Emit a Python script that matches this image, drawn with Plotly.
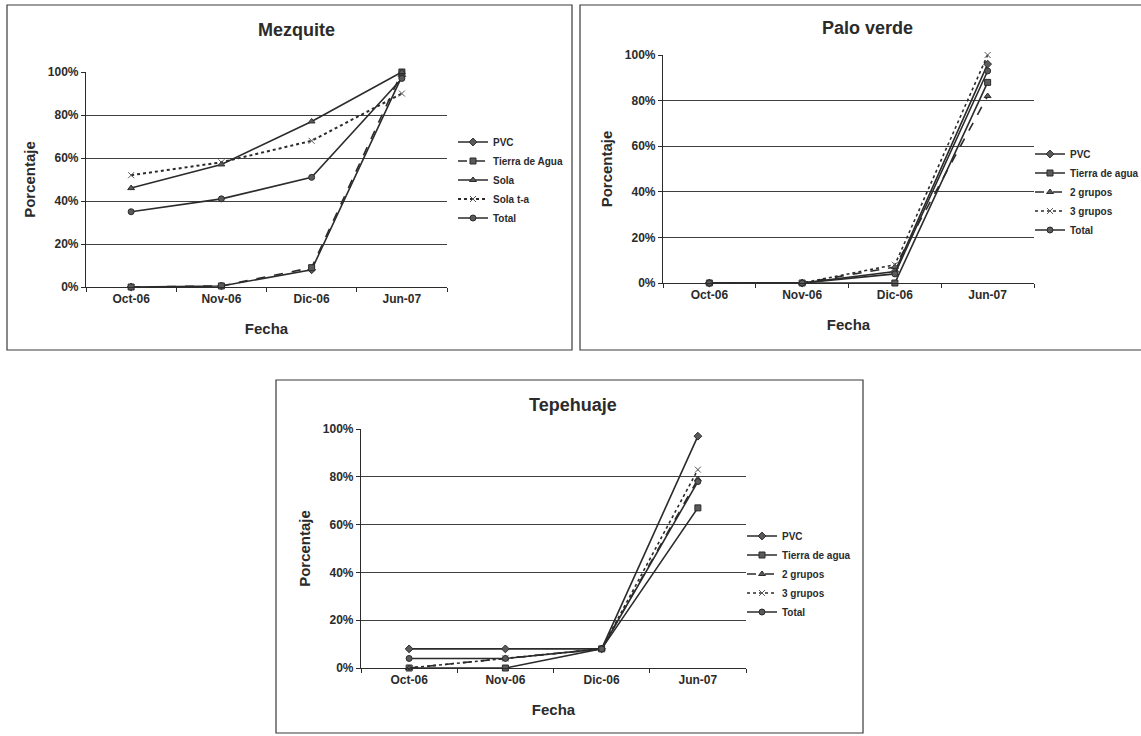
import plotly.graph_objects as go

W, H = 1141, 736

fechas = ["Oct-06", "Nov-06", "Dic-06", "Jun-07"]

# Mezquite
mez_pvc = [0, 0.5, 8, 98]
mez_tierra = [0, 0.5, 9, 100]
mez_sola = [46, 57, 77, 100]
mez_sola_ta = [52, 58, 68, 90]
mez_total = [35, 41, 51, 97]

# Palo verde
pal_pvc = [0, 0, 5, 96]
pal_tierra = [0, 0, 0, 88]
pal_2g = [0, 0, 7, 82]
pal_3g = [0, 0, 8, 100]
pal_total = [0, 0, 4, 93]

# Tepehuaje
tep_pvc = [8, 8, 8, 97]
tep_tierra = [0, 0, 8, 67]
tep_2g = [0, 4, 8, 79]
tep_3g = [0, 4, 8, 83]
tep_total = [4, 4, 8, 78]

INK = "#2b2b2b"
FONT = "Liberation Sans, Arial, sans-serif"


def px_x(v):
    return v / W


def px_y(v):
    return 1 - v / H


def serie(name, y, symbol, dash, xa, ya, leg, width=1.6):
    return go.Scatter(
        x=fechas, y=y, name=name, mode="lines+markers",
        xaxis=xa, yaxis=ya, legend=leg, cliponaxis=False,
        line=dict(color=INK, width=width, dash=dash),
        marker=dict(symbol=symbol, size=6, color="#5a5a5a",
                    line=dict(color=INK, width=1)),
    )


fig = go.Figure()

# Mezquite
for name, y, sym, dash in [
    ("PVC", mez_pvc, "diamond", "solid"),
    ("Tierra de Agua", mez_tierra, "square", "dash"),
    ("Sola", mez_sola, "triangle-up", "solid"),
    ("Sola t-a", mez_sola_ta, "x-thin-open", "dot"),
    ("Total", mez_total, "circle", "solid"),
]:
    fig.add_trace(serie(name, y, sym, dash, "x", "y", "legend",
                        2 if dash == "dot" else 1.6))

# Palo verde
for name, y, sym, dash in [
    ("PVC", pal_pvc, "diamond", "solid"),
    ("Tierra de agua", pal_tierra, "square", "solid"),
    ("2 grupos", pal_2g, "triangle-up", "dash"),
    ("3 grupos", pal_3g, "x-thin-open", "dot"),
    ("Total", pal_total, "circle", "solid"),
]:
    fig.add_trace(serie(name, y, sym, dash, "x2", "y2", "legend2"))

# Tepehuaje
for name, y, sym, dash in [
    ("PVC", tep_pvc, "diamond", "solid"),
    ("Tierra de agua", tep_tierra, "square", "solid"),
    ("2 grupos", tep_2g, "triangle-up", "dash"),
    ("3 grupos", tep_3g, "x-thin-open", "dot"),
    ("Total", tep_total, "circle", "solid"),
]:
    fig.add_trace(serie(name, y, sym, dash, "x3", "y3", "legend3"))


def xaxis(x0, x1, anchor):
    return dict(
        domain=[px_x(x0), px_x(x1)], anchor=anchor, type="category",
        range=[-0.5, 3.5], tickson="boundaries", ticks="outside", ticklen=4,
        tickcolor=INK, showline=True, linecolor=INK, linewidth=1.2,
        showgrid=False,
        tickfont=dict(size=12, family=FONT, color=INK, weight="bold"),
        title=dict(text="<b>Fecha</b>", font=dict(size=15, family=FONT, color=INK),
                   standoff=18),
        fixedrange=True,
    )


def yaxis(y0, y1, anchor):
    return dict(
        domain=[px_y(y1), px_y(y0)], anchor=anchor, range=[0, 100], dtick=20,
        ticksuffix="%", ticks="outside", ticklen=4, tickcolor=INK,
        showline=True, linecolor=INK, linewidth=1.2,
        showgrid=True, gridcolor="#3f3f3f", gridwidth=1.2, zeroline=False,
        tickfont=dict(size=12, family=FONT, color=INK, weight="bold"),
        title=dict(text="<b>Porcentaje</b>", font=dict(size=15, family=FONT, color=INK),
                   standoff=8),
        fixedrange=True,
    )


def legend(x, yc):
    return dict(
        x=px_x(x), y=px_y(yc), xanchor="left", yanchor="middle",
        font=dict(size=10, family=FONT, color=INK, weight="bold"), itemwidth=30,
        bgcolor="rgba(0,0,0,0)", tracegroupgap=0,
    )


def titulo(text, x, y):
    return dict(text=f"<b>{text}</b>", x=px_x(x), y=px_y(y), xref="paper",
                yref="paper", xanchor="center", yanchor="middle",
                showarrow=False, font=dict(size=18, family=FONT, color=INK))


def marco(x0, y0, x1, y1):
    return dict(type="rect", xref="paper", yref="paper",
                x0=px_x(x0), x1=px_x(x1), y0=px_y(y1), y1=px_y(y0),
                line=dict(color="#3a3a3a", width=1.2), layer="below")


fig.update_layout(
    width=W, height=H,
    margin=dict(l=0, r=0, t=0, b=0, autoexpand=False),
    paper_bgcolor="white", plot_bgcolor="white",
    font=dict(family=FONT, color=INK),
    xaxis=xaxis(86, 447, "y"), yaxis=yaxis(72, 287, "x"),
    xaxis2=xaxis(663, 1034, "y2"), yaxis2=yaxis(55, 283, "x2"),
    xaxis3=xaxis(361, 746, "y3"), yaxis3=yaxis(429, 668, "x3"),
    legend=legend(453, 180),
    legend2=legend(1030, 192),
    legend3=legend(742, 574),
    annotations=[
        titulo("Mezquite", 297, 30),
        titulo("Palo verde", 867, 28),
        titulo("Tepehuaje", 573, 405),
    ],
    shapes=[
        marco(7, 5, 572, 350),
        marco(580, 5, 1150, 350),
        marco(276, 380, 863, 733),
    ],
    showlegend=True,
)

fig.write_html("out.html", config={"displayModeBar": False},
               post_script="document.body.style.margin='0';")
